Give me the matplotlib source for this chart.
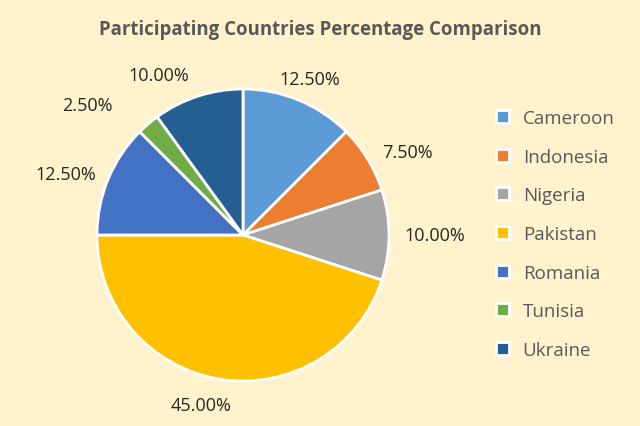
import matplotlib
matplotlib.use("Agg")
import matplotlib.pyplot as plt
import numpy as np

countries = ["Cameroon", "Indonesia", "Nigeria", "Pakistan", "Romania", "Tunisia", "Ukraine"]
shares = [12.5, 7.5, 10.0, 45.0, 12.5, 2.5, 10.0]
colors = ["#5B9BD5", "#ED7D31", "#A5A5A5", "#FFC000", "#4472C4", "#70AD47", "#255E91"]
title = "Participating Countries Percentage Comparison"

# label nudges in pixels (layout only)
nudges = {"Cameroon": (6, 0), "Pakistan": (-17, -4), "Tunisia": (-27, 0),
          "Ukraine": (-35, 0), "Nigeria": (2, 0), "Indonesia": (3, 0)}

bg = "#FFF2CC"
plt.rcParams['font.family'] = ['Open Sans', 'DejaVu Sans']

fig = plt.figure(figsize=(6.4, 4.27), dpi=100)
fig.patch.set_facecolor(bg)

W, H = 640, 427
cx, cy, R = 243, 236, 146
ax = fig.add_axes([(cx - R) / W, (H - cy - R) / H, 2 * R / W, 2 * R / H])
ax.set_facecolor(bg)
wedges, _ = ax.pie(shares, colors=colors, startangle=90, counterclock=False,
                   radius=1.0, wedgeprops=dict(edgecolor="white", linewidth=2))
ax.set_xlim(-1, 1)
ax.set_ylim(-1, 1)
ax.set_aspect('equal')
ax.axis('off')

for w, val, name in zip(wedges, shares, countries):
    ang = np.deg2rad((w.theta1 + w.theta2) / 2)
    c, s = np.cos(ang), np.sin(ang)
    d = 1.09
    x, y = d * c, d * s
    if abs(c) < 0.45:
        ha = 'center'
    elif c > 0:
        ha = 'left'
    else:
        ha = 'right'
    if s > 0.6:
        va = 'bottom'
    elif s < -0.6:
        va = 'top'
    else:
        va = 'center'
    ax.annotate(f"{val:.2f}%", (x, y), xytext=nudges.get(name, (0, 0)),
                textcoords='offset pixels', ha=ha, va=va, fontsize=13,
                color="#262626", annotation_clip=False)

fig.text(0.5, 1 - 30 / H, title, ha='center', va='center', fontsize=13.4,
         fontweight='bold', color="#595959")

leg = fig.legend(wedges, countries, loc='center left',
                 bbox_to_anchor=(488 / W, 1 - 235 / H), frameon=False,
                 fontsize=13.5, labelcolor="#595959", handlelength=0.7,
                 handleheight=0.7, handletextpad=0.75, labelspacing=1.1,
                 borderaxespad=0)

fig.savefig("out.png", dpi=100, facecolor=bg)
